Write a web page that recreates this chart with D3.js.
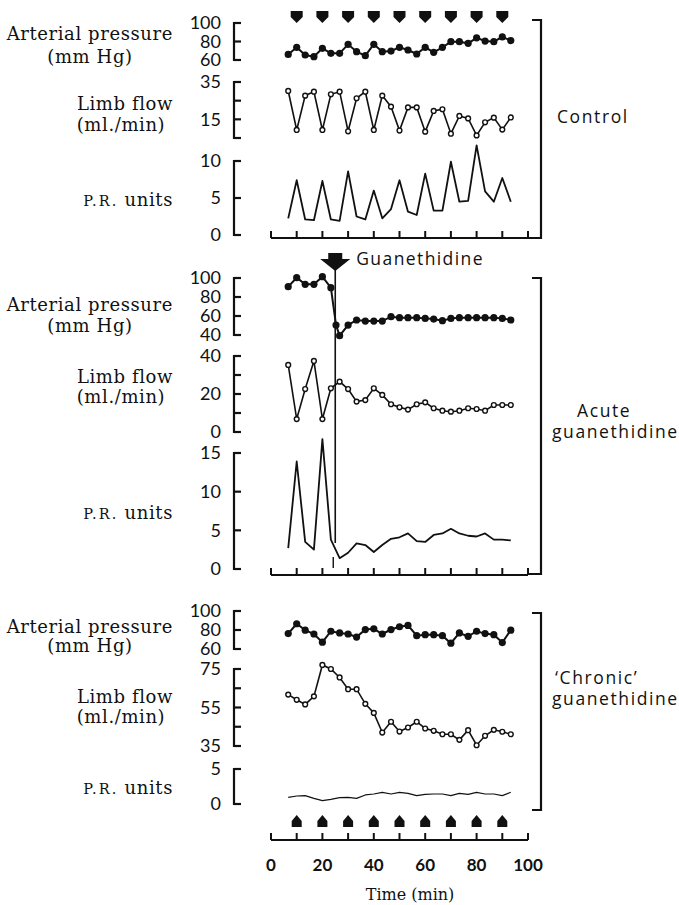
<!DOCTYPE html>
<html>
<head>
<meta charset="utf-8">
<script src="https://cdn.jsdelivr.net/npm/d3@7"></script>
<style>
  body { margin: 0; background: #fff; }
  svg { display: block; }
  .lab { font-family: "DejaVu Serif", serif; font-size: 18px; fill: #111; letter-spacing: 0.6px; }
  .num { font-family: Lato, "Open Sans", sans-serif; font-size: 18px; fill: #111; }
  .grp { font-family: "Open Sans", sans-serif; font-size: 17.5px; fill: #111; letter-spacing: 1.6px; }
</style>
</head>
<body>
<div id="chart"></div>
<script>
// sampling times (min)
var times = [6.7, 10, 13.3, 16.7, 20, 23.3, 26.7, 30, 33.3, 36.7, 40, 43.3, 46.7, 50,
  53.3, 56.7, 60, 63.3, 66.7, 70, 73.3, 76.7, 80, 83.3, 86.7, 90, 93.3];
var acuteApTimes = [6.7, 10, 13.3, 16.7, 20, 23.3, 25.3, 26.7, 30, 33.3, 36.7, 40, 43.3, 46.7, 50,
  53.3, 56.7, 60, 63.3, 66.7, 70, 73.3, 76.7, 80, 83.3, 86.7, 90, 93.3];
var arrowTimes = [10, 20, 30, 40, 50, 60, 70, 80, 90];
var timeTicks = [0, 10, 20, 30, 40, 50, 60, 70, 80, 90, 100];
var timeLabels = [0, 20, 40, 60, 80, 100];
var injectionTime = 25;

// control
var controlAP = [66, 73.7, 65.4, 63.6, 72.6, 67.2, 67.2, 77, 69, 64.7, 77, 69, 69.7, 73.7,
  70.8, 66.5, 73.7, 68.3, 73.7, 79.8, 79.8, 78, 84, 80.5, 79.8, 85, 81];
var controlFlow = [30.2, 9.3, 27.7, 29.8, 9.3, 28.4, 29.8, 8.6, 26.3, 29.8, 9.3, 27.7, 21.8, 9,
  21.4, 21.4, 8.4, 19.5, 20.4, 7.3, 16.8, 15.5, 6.4, 13.4, 15.9, 9.5, 16];
var controlPR = [2.25, 7.4, 2.1, 2.0, 7.3, 2.1, 1.9, 8.6, 2.5, 2.1, 6.0, 2.25, 3.5, 7.4, 3.15,
  2.7, 8.3, 3.3, 3.3, 9.9, 4.5, 4.6, 12.1, 5.9, 4.5, 7.7, 4.5];

// acute guanethidine
var acuteAP = [90.9, 100.3, 93.3, 93.3, 101.4, 89.8, 50.5, 39.3, 50.5, 55.8, 54.7, 54.7, 54.7,
  59.3, 58.2, 58.2, 58.2, 57.5, 56.8, 55.1, 57.5, 58.2, 58.2, 58.2, 58.2, 58.2, 57.5, 55.8];
var acuteFlow = [35.3, 6.8, 22.6, 37.4, 6.8, 23, 26.5, 22.6, 16, 16.8, 23, 19.5, 14.6, 13, 11.8,
  14.6, 15.6, 12.5, 11.2, 10.7, 11.2, 12.5, 12.1, 11.2, 14.2, 14.2, 14.2];
var acutePR = [2.7, 13.9, 3.5, 2.5, 16.8, 3.8, 1.4, 2.1, 3.3, 3.1, 2.2, 3.1, 3.9, 4.1, 4.6, 3.6,
  3.5, 4.4, 4.6, 5.2, 4.6, 4.3, 4.2, 4.6, 3.8, 3.8, 3.7];

// 'chronic' guanethidine
var chronicAP = [76.2, 86.6, 79.8, 75.8, 67.2, 78.7, 76.9, 75.8, 72.6, 80.5, 81.2, 75.8, 80.5,
  83.4, 84.8, 74, 75.1, 75.1, 74, 66.1, 76.9, 73.3, 78.7, 76.2, 75.1, 66.8, 79.8];
var chronicFlow = [61.7, 59, 56.6, 60.8, 77.1, 75, 70.6, 64.5, 64.5, 56.9, 52.2, 42, 47.6, 42.5,
  44.6, 47.6, 44.1, 42.9, 41.1, 41.1, 38.2, 43.2, 35.4, 40.3, 43.4, 42.4, 41.1];
var chronicPR = [0.95, 1.14, 1.19, 0.81, 0.48, 0.67, 0.9, 0.95, 0.81, 1.29, 1.43, 1.67, 1.43,
  1.67, 1.52, 1.19, 1.38, 1.43, 1.43, 1.19, 1.52, 1.38, 1.67, 1.43, 1.43, 1.19, 1.67];

var W = 679, H = 905;
var svg = d3.select("#chart").append("svg").attr("width", W).attr("height", H);

var x = d3.scaleLinear().domain([0, 100]).range([271, 528]);
var axisX = 234;

// panel layout
var panels = [
  { name: ["Control"], nameY: [123], nameX: [557], top: 20, bottom: 238, axisY: 238,
    ap: { dom: [60, 100], rng: [60, 23], ticks: [60, 80, 100], labels: [60, 80, 100], t: times, v: controlAP, labY: [40, 63] },
    flow: { dom: [5, 35], rng: [138, 82], ticks: [5, 15, 25, 35], labels: [15, 35], t: times, v: controlFlow, labY: [110, 131] },
    pr: { dom: [0, 10], rng: [235, 161], ticks: [0, 5, 10], labels: [0, 5, 10], t: times, v: controlPR, labY: 206, w: 1.8 } },
  { name: ["Acute", "guanethidine"], nameY: [417, 438], nameX: [577, 552], top: 278, bottom: 574, axisY: 575,
    ap: { dom: [40, 100], rng: [335, 278], ticks: [40, 60, 80, 100], labels: [40, 60, 80, 100], t: acuteApTimes, v: acuteAP, labY: [311, 332] },
    flow: { dom: [0, 40], rng: [432, 356], ticks: [0, 10, 20, 30, 40], labels: [0, 20, 40], t: times, v: acuteFlow, labY: [383, 403] },
    pr: { dom: [0, 15], rng: [569, 453], ticks: [0, 5, 10, 15], labels: [0, 5, 10, 15], t: times, v: acutePR, labY: 519, w: 1.8 } },
  { name: ["\u2018Chronic\u2019", "guanethidine"], nameY: [684, 705], nameX: [555, 552], top: 613, bottom: 810, axisY: 840,
    ap: { dom: [60, 100], rng: [649, 611], ticks: [60, 80, 100], labels: [60, 80, 100], t: times, v: chronicAP, labY: [633, 652] },
    flow: { dom: [35, 75], rng: [746, 669], ticks: [35, 45, 55, 65, 75], labels: [35, 55, 75], t: times, v: chronicFlow, labY: [703, 723] },
    pr: { dom: [0, 5], rng: [804, 769], ticks: [0, 5], labels: [0, 5], t: times, v: chronicPR, labY: 794, w: 1.2 } }
];

function yAxisBracket(g, y, ticks, labels) {
  var r = y.range();
  g.append("path")
    .attr("d", "M" + (axisX + 7) + "," + r[1] + "H" + axisX + "V" + r[0] + "H" + (axisX + 7))
    .attr("fill", "none").attr("stroke", "#111").attr("stroke-width", 2.2);
  ticks.forEach(function(t) {
    g.append("line").attr("x1", axisX).attr("x2", axisX + 7)
      .attr("y1", y(t)).attr("y2", y(t))
      .attr("stroke", "#111").attr("stroke-width", 2.2);
  });
  labels.forEach(function(t) {
    g.append("text").attr("class", "num")
      .attr("x", 221).attr("y", y(t)).attr("dy", "0.36em")
      .attr("text-anchor", "end").text(t);
  });
}

panels.forEach(function(p, i) {
  var g = svg.append("g");

  var yAP = d3.scaleLinear().domain(p.ap.dom).range(p.ap.rng);
  var yFlow = d3.scaleLinear().domain(p.flow.dom).range(p.flow.rng);
  var yPR = d3.scaleLinear().domain(p.pr.dom).range(p.pr.rng);

  yAxisBracket(g, yAP, p.ap.ticks, p.ap.labels);
  yAxisBracket(g, yFlow, p.flow.ticks, p.flow.labels);
  yAxisBracket(g, yPR, p.pr.ticks, p.pr.labels);

  // left labels
  g.append("text").attr("class", "lab").attr("x", 173).attr("y", p.ap.labY[0])
    .attr("text-anchor", "end").text("Arterial pressure");
  g.append("text").attr("class", "lab").attr("x", 90).attr("y", p.ap.labY[1])
    .attr("text-anchor", "middle").text("(mm Hg)");
  g.append("text").attr("class", "lab").attr("x", 173).attr("y", p.flow.labY[0])
    .attr("text-anchor", "end").text("Limb flow");
  g.append("text").attr("class", "lab").attr("x", 121).attr("y", p.flow.labY[1])
    .attr("text-anchor", "middle").text("(ml./min)");
  var pr = g.append("text").attr("class", "lab").attr("x", 173).attr("y", p.pr.labY)
    .attr("text-anchor", "end");
  pr.append("tspan").style("font-size", "14.5px").style("letter-spacing", "2px").text("P.R.");
  pr.append("tspan").text("\u00a0units");

  // bottom time axis
  var ay = p.axisY;
  g.append("line").attr("x1", x(0)).attr("x2", x(100)).attr("y1", ay).attr("y2", ay)
    .attr("stroke", "#111").attr("stroke-width", 2.2);
  timeTicks.forEach(function(t) {
    g.append("line").attr("x1", x(t)).attr("x2", x(t)).attr("y1", ay).attr("y2", ay - 7)
      .attr("stroke", "#111").attr("stroke-width", 2);
  });

  // right bracket
  g.append("path")
    .attr("d", "M" + 532 + "," + p.top + "H541V" + p.bottom + "H" + (i == 2 ? 532 : 528))
    .attr("fill", "none").attr("stroke", "#111").attr("stroke-width", 2.2);

  p.name.forEach(function(n, j) {
    g.append("text").attr("class", "grp").attr("x", p.nameX[j]).attr("y", p.nameY[j]).text(n);
  });

  // PR units line
  g.append("path")
    .attr("d", d3.line().x(function(d, k) { return x(p.pr.t[k]); }).y(function(d) { return yPR(d); })(p.pr.v))
    .attr("fill", "none").attr("stroke", "#111").attr("stroke-width", p.pr.w).attr("stroke-linejoin", "round");

  // limb flow: line + open circles
  g.append("path")
    .attr("d", d3.line().x(function(d, k) { return x(p.flow.t[k]); }).y(function(d) { return yFlow(d); })(p.flow.v))
    .attr("fill", "none").attr("stroke", "#111").attr("stroke-width", 1.6);
  g.selectAll(".fc").data(p.flow.v).enter().append("circle")
    .attr("cx", function(d, k) { return x(p.flow.t[k]); })
    .attr("cy", function(d) { return yFlow(d); })
    .attr("r", 2.4).attr("fill", "#fff").attr("stroke", "#111").attr("stroke-width", 1.4);

  // arterial pressure: line + filled dots
  g.append("path")
    .attr("d", d3.line().x(function(d, k) { return x(p.ap.t[k]); }).y(function(d) { return yAP(d); })(p.ap.v))
    .attr("fill", "none").attr("stroke", "#111").attr("stroke-width", 2);
  g.selectAll(".ac").data(p.ap.v).enter().append("circle")
    .attr("cx", function(d, k) { return x(p.ap.t[k]); })
    .attr("cy", function(d) { return yAP(d); })
    .attr("r", 3.6).attr("fill", "#111");
});

// bottom labels
timeLabels.forEach(function(t) {
  svg.append("text").attr("class", "num").style("font-weight", "bold").style("font-size", "17px")
    .attr("x", x(t)).attr("y", 871).attr("text-anchor", "middle").text(t);
});
svg.append("text").attr("class", "lab").style("font-size", "16px").style("letter-spacing", "0px")
  .attr("x", 410).attr("y", 900).attr("text-anchor", "middle").text("Time (min)");

// stimulation arrows: down at top (control), up at bottom (chronic)
arrowTimes.forEach(function(t) {
  var cx = x(t);
  svg.append("path")
    .attr("d", "M" + (cx - 6) + ",11h12v6l-6,6l-6,-6z").attr("fill", "#111");
  svg.append("path")
    .attr("d", "M" + (cx - 5) + ",827v-6l5,-6l5,6v6z").attr("fill", "#111");
});

// guanethidine injection
var ix = x(injectionTime);
svg.append("path")
  .attr("d", "M" + (ix - 7) + ",253h14v6h8l-15,12l-15,-12h8z").attr("fill", "#111");
svg.append("text").attr("class", "grp").style("letter-spacing", "1.4px")
  .attr("x", ix + 21).attr("y", 265).text("Guanethidine");
svg.append("line").attr("x1", ix).attr("x2", ix).attr("y1", 270).attr("y2", 543)
  .attr("stroke", "#111").attr("stroke-width", 1.6);
svg.append("line").attr("x1", ix - 2).attr("x2", ix - 2).attr("y1", 557).attr("y2", 568)
  .attr("stroke", "#111").attr("stroke-width", 1.4);
</script>
</body>
</html>
